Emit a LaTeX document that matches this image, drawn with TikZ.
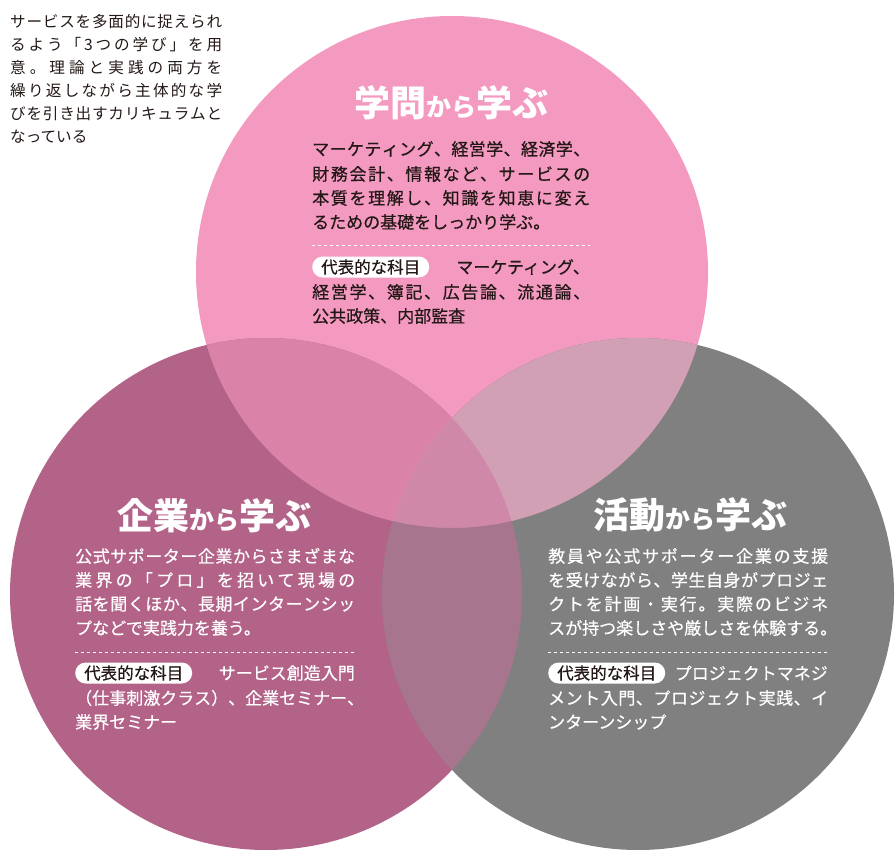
\documentclass[tikz,border=0pt]{standalone}
\usepackage{fontspec}
\setmainfont{Noto Sans CJK JP}
\newfontfamily\medfont[FakeBold=0.5]{Noto Sans CJK JP}
\definecolor{cTop}{HTML}{F49AC1}
\definecolor{cLeft}{HTML}{B36388}
\definecolor{cRight}{HTML}{808080}
\definecolor{cTL}{HTML}{DB82A9}
\definecolor{cTR}{HTML}{D1A0B5}
\definecolor{cLR}{HTML}{A7758D}
\definecolor{cMid}{HTML}{D088A8}
\definecolor{cTxt}{HTML}{231815}
\makeatletter
\newcommand\jfull[2]{\hbox to #1{\@tfor\jch:=#2\do{\jch\hskip 0pt plus 1fil}\unskip}}
\makeatother
\newcommand\ttl[2]{{\fontsize{36}{36}\selectfont\bfseries #1}{\fontsize{25}{25}\selectfont\bfseries から}{\fontsize{36}{36}\selectfont\bfseries #2}}
\tikzset{
  bodyline/.style={anchor=west, inner sep=0pt, font=\medfont\fontsize{17}{17}\selectfont},
  introline/.style={anchor=west, inner sep=0pt, text=cTxt, font=\fontsize{15.6}{15.6}\selectfont},
  titlenode/.style={inner sep=0pt, text=white},
  badge/.style={anchor=west, fill=white, text=cTxt, rounded corners=10.5pt, minimum height=21pt, inner xsep=9pt, inner ysep=0pt, font=\medfont\fontsize{16.5}{16.5}\selectfont},
  dashline/.style={white, line width=0.9pt, dash pattern=on 3pt off 3pt},
}
\begin{document}
\begin{tikzpicture}[x=1pt,y=-1pt]
\useasboundingbox (0,0) rectangle (896,850);
% circles
\def\R{256}
\coordinate (T) at (452,272);
\coordinate (L) at (266,594);
\coordinate (Rt) at (638,594);
\fill[cTop] (T) circle (\R);
\fill[cLeft] (L) circle (\R);
\fill[cRight] (Rt) circle (\R);
\begin{scope}
  \clip (T) circle (\R);
  \fill[cTL] (L) circle (\R);
  \fill[cTR] (Rt) circle (\R);
  \clip (L) circle (\R);
  \fill[cMid] (Rt) circle (\R);
\end{scope}
\begin{scope}
  \clip (L) circle (\R);
  \clip (Rt) circle (\R);
  \begin{scope}[even odd rule]
    \clip (T) circle (\R) (0,0) rectangle (896,850);
    \fill[cLR] (0,0) rectangle (896,850);
  \end{scope}
\end{scope}
% intro text
\node[introline] (i1) at (10,22) {\jfull{212pt}{サービスを多面的に捉えられ}};
\node[introline] (i2) at (10,45) {\jfull{212pt}{るよう「3つの学び」を用}};
\node[introline] (i3) at (10,68) {\jfull{212pt}{意。理論と実践の両方を}};
\node[introline] (i4) at (10,91) {\jfull{212pt}{繰り返しながら主体的な学}};
\node[introline] (i5) at (10,114) {\jfull{212pt}{びを引き出すカリキュラムと}};
\node[introline] (i6) at (10,137) {なっている};
% top circle
\node[titlenode] (t0) at (451,103) {\ttl{学問}{学ぶ}};
\begin{scope}[every node/.style={bodyline, text=cTxt}]
\node (t1) at (312,149) {\jfull{278pt}{マーケティング、経営学、経済学、}};
\node (t2) at (312,174) {\jfull{278pt}{財務会計、情報など、サービスの}};
\node (t3) at (312,198) {\jfull{278pt}{本質を理解し、知識を知恵に変え}};
\node (t4) at (312,222) {るための基礎をしっかり学ぶ。};
\node[anchor=east] (t5) at (590,267) {マーケティング、};
\node (t6) at (312,292) {\jfull{278pt}{経営学、簿記、広告論、流通論、}};
\node (t7) at (312,316) {公共政策、内部監査};
\end{scope}
\draw[dashline] (312,245) -- (590,245);
\node[badge] (tb) at (312,267) {代表的な科目};
% left circle
\node[titlenode] (l0) at (214,516) {\ttl{企業}{学ぶ}};
\begin{scope}[every node/.style={bodyline, text=white}]
\node (l1) at (75,556) {\jfull{280pt}{公式サポーター企業からさまざまな}};
\node (l2) at (75,580) {\jfull{280pt}{業界の「プロ」を招いて現場の}};
\node (l3) at (75,604) {\jfull{280pt}{話を聞くほか、長期インターンシッ}};
\node (l4) at (75,628) {プなどで実践力を養う。};
\node[anchor=east] (l5) at (355,673) {サービス創造入門};
\node (l6) at (75,698) {\jfull{280pt}{（仕事刺激クラス）、企業セミナー、}};
\node (l7) at (75,722) {業界セミナー};
\end{scope}
\draw[dashline] (75,652) -- (355,652);
\node[badge] (lb) at (75,673) {代表的な科目};
% right circle
\node[titlenode] (r0) at (690,515) {\ttl{活動}{学ぶ}};
\begin{scope}[every node/.style={bodyline, text=white}]
\node (r1) at (548,556) {\jfull{280pt}{教員や公式サポーター企業の支援}};
\node (r2) at (548,580) {\jfull{280pt}{を受けながら、学生自身がプロジェ}};
\node (r3) at (548,604) {\jfull{280pt}{クトを計画・実行。実際のビジネ}};
\node (r4) at (548,628) {\jfull{280pt}{スが持つ楽しさや厳しさを体験する。}};
\node[anchor=east] (r5) at (828,673) {プロジェクトマネジ};
\node (r6) at (548,698) {\jfull{280pt}{メント入門、プロジェクト実践、イ}};
\node (r7) at (548,722) {ンターンシップ};
\end{scope}
\draw[dashline] (548,652) -- (828,652);
\node[badge] (rb) at (548,673) {代表的な科目};
\end{tikzpicture}
\end{document}
